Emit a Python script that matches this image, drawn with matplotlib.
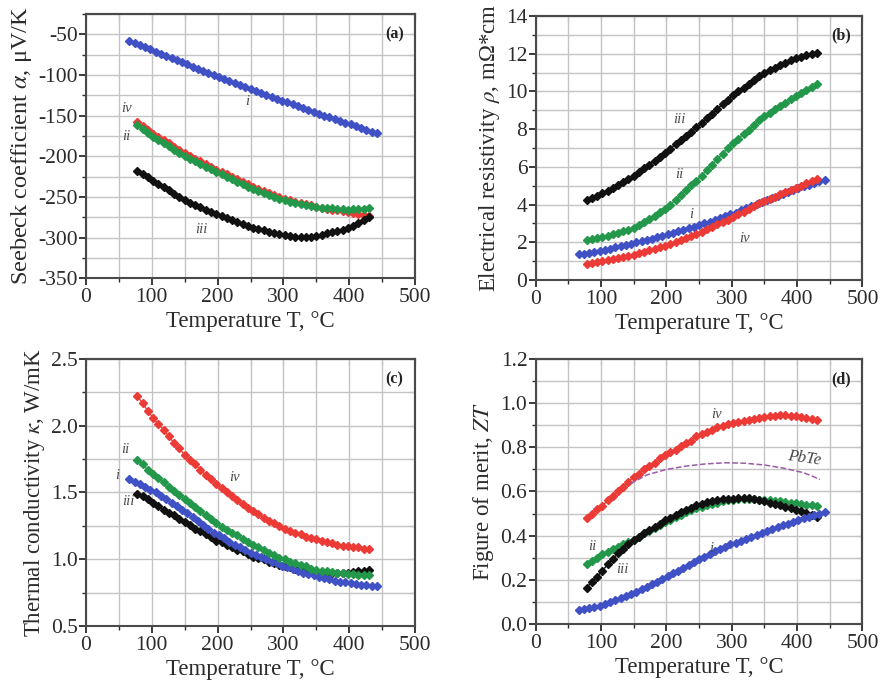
import numpy as np
import matplotlib
matplotlib.use("Agg")
import matplotlib.pyplot as plt
from matplotlib.ticker import MultipleLocator, FormatStrFormatter

plt.rcParams['font.family'] = ['Liberation Serif', 'DejaVu Serif']
plt.rcParams['mathtext.fontset'] = 'stix'
plt.rcParams['axes.unicode_minus'] = False

# temperatures, deg C
T_i = [66, 74, 82, 90, 98, 106, 114, 122, 130, 138, 146, 154, 162, 170, 178, 186,
       194, 202, 210, 218, 226, 234, 242, 250, 258, 266, 274, 282, 290, 298, 306, 314,
       322, 330, 338, 346, 354, 362, 370, 378, 386, 394, 402, 410, 418, 426, 434, 442]
T_x = [78, 86, 94, 102, 110, 118, 126, 134, 142, 150, 158, 166, 174, 182, 190, 198,
       206, 214, 222, 230, 238, 246, 254, 262, 270, 278, 286, 294, 302, 310, 318, 326,
       334, 342, 350, 358, 366, 374, 382, 390, 398, 406, 414, 422, 430]

# (a) Seebeck coefficient, uV/K
seebeck_i = [-58.0, -60.6, -63.2, -65.8, -68.4, -71.2, -73.8, -76.5, -79.1, -81.7, -84.4, -87.0,
             -89.6, -92.2, -94.8, -97.4, -100.0, -102.6, -105.0, -107.4, -109.8, -112.2, -114.6, -117.0,
             -119.4, -121.8, -124.2, -126.6, -129.0, -131.4, -133.7, -136.0, -138.3, -140.6, -142.9, -145.2,
             -147.5, -149.8, -152.0, -154.2, -156.4, -158.6, -160.8, -163.0, -165.2, -167.4, -169.6, -171.8]
seebeck_ii = [-162.0, -166.7, -171.4, -176.0, -179.9, -183.8, -187.7, -191.7, -195.6, -199.5, -202.8, -206.1,
              -209.3, -212.6, -215.9, -219.2, -222.3, -225.3, -228.4, -231.4, -234.4, -237.5, -240.2, -242.6,
              -245.0, -247.4, -249.8, -252.2, -254.3, -255.7, -257.1, -258.4, -259.8, -261.1, -262.5, -263.0,
              -263.5, -264.0, -264.4, -264.9, -265.4, -265.2, -264.9, -264.5, -264.1]
seebeck_iii = [-218.0, -222.0, -226.0, -230.0, -234.0, -238.0, -242.0, -246.0, -250.0, -254.0, -256.9, -259.8,
               -262.6, -265.5, -268.4, -271.3, -273.8, -276.2, -278.6, -281.0, -283.4, -285.8, -287.8, -289.4,
               -291.0, -292.6, -294.2, -295.8, -297.2, -298.0, -298.8, -299.6, -299.8, -299.4, -298.0, -296.4,
               -294.8, -293.2, -291.6, -290.0, -288.4, -285.4, -281.9, -278.4, -274.9]
seebeck_iv = [-158.0, -162.8, -167.6, -172.0, -176.0, -180.0, -184.0, -188.0, -192.0, -196.0, -199.4, -202.7,
              -206.1, -209.4, -212.8, -216.2, -219.3, -222.3, -225.4, -228.4, -231.4, -234.5, -237.3, -239.8,
              -242.4, -245.0, -247.5, -250.1, -252.4, -254.0, -255.6, -257.2, -258.8, -260.4, -262.0, -263.1,
              -264.2, -265.4, -266.5, -267.6, -268.7, -270.0, -271.3, -272.6, -273.8]

# (b) electrical resistivity, mOhm*cm
rho_i = [1.36, 1.40, 1.45, 1.49, 1.54, 1.60, 1.66, 1.73, 1.79, 1.85, 1.92, 1.99, 2.06, 2.13, 2.20, 2.27,
         2.35, 2.42, 2.50, 2.58, 2.66, 2.74, 2.82, 2.90, 3.00, 3.09, 3.19, 3.28, 3.38, 3.48, 3.58, 3.70,
         3.81, 3.92, 4.03, 4.14, 4.25, 4.36, 4.46, 4.56, 4.67, 4.77, 4.87, 4.96, 5.05, 5.14, 5.23, 5.32]
rho_ii = [2.10, 2.15, 2.21, 2.27, 2.35, 2.43, 2.51, 2.59, 2.67, 2.75, 2.92, 3.09, 3.25, 3.42, 3.59, 3.76,
          3.99, 4.25, 4.50, 4.76, 5.02, 5.27, 5.54, 5.83, 6.12, 6.41, 6.70, 6.98, 7.26, 7.50, 7.74, 7.98,
          8.22, 8.46, 8.70, 8.88, 9.05, 9.23, 9.40, 9.58, 9.76, 9.92, 10.08, 10.25, 10.41]
rho_iii = [4.25, 4.36, 4.47, 4.59, 4.74, 4.89, 5.04, 5.20, 5.35, 5.50, 5.71, 5.92, 6.12, 6.33, 6.54, 6.75,
           6.97, 7.19, 7.42, 7.64, 7.86, 8.09, 8.32, 8.57, 8.82, 9.07, 9.32, 9.56, 9.80, 10.00, 10.20, 10.40,
           10.60, 10.80, 11.00, 11.13, 11.26, 11.38, 11.51, 11.64, 11.77, 11.85, 11.91, 11.97, 12.03]
rho_iv = [0.85, 0.90, 0.96, 1.01, 1.07, 1.13, 1.18, 1.24, 1.29, 1.35, 1.43, 1.51, 1.59, 1.67, 1.75, 1.83,
          1.93, 2.03, 2.14, 2.24, 2.34, 2.45, 2.56, 2.69, 2.82, 2.95, 3.08, 3.20, 3.34, 3.48, 3.62, 3.77,
          3.91, 4.06, 4.20, 4.31, 4.42, 4.54, 4.65, 4.76, 4.87, 4.99, 5.12, 5.24, 5.37]

# (c) thermal conductivity, W/mK
kappa_i = [1.60, 1.58, 1.56, 1.54, 1.52, 1.50, 1.47, 1.45, 1.42, 1.40, 1.37, 1.35, 1.32, 1.29, 1.26, 1.23,
           1.20, 1.18, 1.16, 1.13, 1.11, 1.09, 1.07, 1.05, 1.03, 1.02, 1.00, 0.98, 0.97, 0.95, 0.94, 0.93,
           0.91, 0.90, 0.89, 0.88, 0.87, 0.86, 0.85, 0.84, 0.83, 0.83, 0.82, 0.815, 0.81, 0.805, 0.80, 0.80]
kappa_ii = [1.74, 1.71, 1.67, 1.64, 1.61, 1.58, 1.54, 1.51, 1.48, 1.45, 1.42, 1.39, 1.36, 1.33, 1.30, 1.27,
            1.24, 1.22, 1.20, 1.18, 1.15, 1.13, 1.11, 1.09, 1.07, 1.05, 1.03, 1.01, 1.00, 0.98, 0.97, 0.96,
            0.95, 0.93, 0.92, 0.915, 0.91, 0.905, 0.90, 0.895, 0.89, 0.888, 0.885, 0.883, 0.88]
kappa_iii = [1.49, 1.47, 1.45, 1.42, 1.40, 1.37, 1.35, 1.33, 1.30, 1.28, 1.26, 1.23, 1.21, 1.19, 1.17, 1.14,
             1.13, 1.11, 1.09, 1.07, 1.06, 1.04, 1.02, 1.01, 1.00, 0.98, 0.97, 0.96, 0.95, 0.94, 0.93, 0.925,
             0.92, 0.91, 0.905, 0.90, 0.898, 0.896, 0.895, 0.897, 0.90, 0.905, 0.91, 0.915, 0.92]
kappa_iv = [2.22, 2.17, 2.11, 2.06, 2.01, 1.97, 1.92, 1.87, 1.83, 1.78, 1.74, 1.71, 1.67, 1.63, 1.60, 1.56,
            1.53, 1.50, 1.47, 1.44, 1.41, 1.38, 1.36, 1.34, 1.31, 1.29, 1.27, 1.25, 1.23, 1.21, 1.20, 1.19,
            1.17, 1.16, 1.15, 1.14, 1.13, 1.12, 1.11, 1.10, 1.10, 1.09, 1.09, 1.08, 1.08]

# (d) figure of merit ZT
zt_i = [0.063, 0.067, 0.072, 0.077, 0.083, 0.090, 0.098, 0.107, 0.116, 0.126, 0.136, 0.146, 0.157, 0.168,
        0.180, 0.192, 0.204, 0.216, 0.229, 0.242, 0.255, 0.268, 0.281, 0.293, 0.305, 0.317, 0.329, 0.340,
        0.350, 0.360, 0.369, 0.378, 0.387, 0.396, 0.405, 0.414, 0.423, 0.431, 0.439, 0.447, 0.455, 0.463,
        0.470, 0.478, 0.486, 0.493, 0.500, 0.507]
zt_ii = [0.270, 0.285, 0.300, 0.315, 0.325, 0.340, 0.350, 0.360, 0.370, 0.380, 0.395, 0.410, 0.420, 0.435,
         0.450, 0.460, 0.470, 0.485, 0.495, 0.505, 0.515, 0.525, 0.530, 0.540, 0.545, 0.550, 0.555, 0.560,
         0.562, 0.564, 0.565, 0.565, 0.565, 0.563, 0.562, 0.560, 0.558, 0.555, 0.552, 0.550, 0.547, 0.544,
         0.541, 0.538, 0.535]
zt_iii = [0.165, 0.190, 0.215, 0.240, 0.270, 0.295, 0.320, 0.340, 0.360, 0.380, 0.395, 0.410, 0.425, 0.440,
          0.455, 0.470, 0.482, 0.494, 0.505, 0.516, 0.527, 0.537, 0.545, 0.551, 0.556, 0.560, 0.564, 0.567,
          0.568, 0.569, 0.570, 0.570, 0.568, 0.562, 0.555, 0.549, 0.543, 0.537, 0.530, 0.524, 0.518, 0.510,
          0.502, 0.493, 0.485]
zt_iv = [0.480, 0.500, 0.520, 0.535, 0.560, 0.580, 0.600, 0.620, 0.645, 0.665, 0.680, 0.700, 0.715, 0.730,
         0.750, 0.765, 0.780, 0.790, 0.805, 0.820, 0.830, 0.850, 0.860, 0.870, 0.880, 0.890, 0.895, 0.905,
         0.910, 0.915, 0.920, 0.925, 0.930, 0.935, 0.938, 0.940, 0.943, 0.945, 0.945, 0.944, 0.942, 0.939,
         0.934, 0.928, 0.922]
T_pbte = [145, 170, 200, 230, 260, 290, 320, 350, 380, 410, 435]
zt_pbte = [0.635, 0.675, 0.700, 0.715, 0.725, 0.730, 0.728, 0.720, 0.705, 0.685, 0.655]

BLUE = '#3f51c4'
GREEN = '#23984a'
BLACK = '#111111'
RED = '#ec3a36'
PURPLE = '#9b5aa8'
GRID = '#c4c4c4'
INK = '#2b2b2b'


def series(ax, T, y, color):
    ax.plot(T, y, '-', color=color, lw=1.0, marker='D', ms=3.8,
            mec=color, mfc=color, zorder=3)


def setup(ax, ylim, ymaj, ymin, fmt, ylabel, ysize, tag):
    ax.set_xlim(0, 500)
    ax.set_ylim(*ylim)
    ax.xaxis.set_major_locator(MultipleLocator(100))
    ax.xaxis.set_minor_locator(MultipleLocator(50))
    ax.yaxis.set_major_locator(MultipleLocator(ymaj))
    ax.yaxis.set_minor_locator(MultipleLocator(ymin))
    ax.yaxis.set_major_formatter(FormatStrFormatter(fmt))
    ax.grid(True, which='both', color=GRID, lw=1.0, zorder=0)
    ax.set_axisbelow(True)
    # outward ticks on the labelled sides, inward on the opposite ones
    ax.tick_params(which='both', direction='out', labelsize=15.5, colors=INK)
    ax.tick_params(which='major', length=5, width=1.3)
    ax.tick_params(which='minor', length=3, width=1.0)
    ax.tick_params(axis='x', pad=2)
    ax.tick_params(axis='y', pad=1)
    sx = ax.secondary_xaxis('top')
    sx.set_xticks(np.arange(0, 501, 50))
    sx.tick_params(direction='in', length=4, labeltop=False, colors='#555555')
    sy = ax.secondary_yaxis('right')
    sy.set_yticks(np.arange(ylim[0], ylim[1] + 1e-9, ymin))
    sy.tick_params(direction='in', length=4, labelright=False, colors='#555555')
    for a in (ax, sx, sy):
        for sp in a.spines.values():
            sp.set_color('#4a4a4a')
            sp.set_linewidth(1.5)
    ax.set_xlabel('Temperature T, °C', fontsize=16.5, color=INK, labelpad=3)
    ax.set_ylabel(ylabel, fontsize=ysize, color=INK, labelpad=3)
    ax.text(0.965, 0.955, tag, transform=ax.transAxes, ha='right', va='top',
            fontsize=11.5, fontweight='bold', color='#222222')


def roman(ax, x, y, s):
    ax.text(x, y, s, fontsize=10.5, style='italic', color='#4a4a4a',
            ha='center', va='center', zorder=4)


fig = plt.figure(figsize=(8.81, 6.83), dpi=100)

ax_a = fig.add_axes([0.0976, 0.5925, 0.3735, 0.387])
ax_b = fig.add_axes([0.608, 0.590, 0.371, 0.3866])
ax_c = fig.add_axes([0.0976, 0.0835, 0.3735, 0.3909])
ax_d = fig.add_axes([0.608, 0.0864, 0.371, 0.388])

# (a)
setup(ax_a, (-350, -25), 50, 25, '%d', r'Seebeck coefficient $\alpha$, μV/K', 17.5, '(a)')
series(ax_a, T_i, seebeck_i, BLUE)
series(ax_a, T_x, seebeck_iv, RED)
series(ax_a, T_x, seebeck_ii, GREEN)
series(ax_a, T_x, seebeck_iii, BLACK)
roman(ax_a, 245, -133, 'i')
roman(ax_a, 61, -141, 'iv')
roman(ax_a, 61, -176, 'ii')
roman(ax_a, 176, -290, 'iii')

# (b)
setup(ax_b, (0, 14), 2, 1, '%d', r'Electrical resistivity $\rho$, mΩ*cm', 16.5, '(b)')
series(ax_b, T_x, rho_iii, BLACK)
series(ax_b, T_x, rho_ii, GREEN)
series(ax_b, T_i, rho_i, BLUE)
series(ax_b, T_x, rho_iv, RED)
roman(ax_b, 220, 8.5, 'iii')
roman(ax_b, 220, 5.6, 'ii')
roman(ax_b, 238, 3.45, 'i')
roman(ax_b, 320, 2.2, 'iv')

# (c)
setup(ax_c, (0.5, 2.5), 0.5, 0.25, '%.1f', r'Thermal conductivity $\kappa$, W/mK', 16.5, '(c)')
series(ax_c, T_x, kappa_iv, RED)
series(ax_c, T_x, kappa_iii, BLACK)
series(ax_c, T_i, kappa_i, BLUE)
series(ax_c, T_x, kappa_ii, GREEN)
roman(ax_c, 59, 1.82, 'ii')
roman(ax_c, 48, 1.63, 'i')
roman(ax_c, 64, 1.43, 'iii')
roman(ax_c, 226, 1.61, 'iv')

# (d)
setup(ax_d, (0.0, 1.2), 0.2, 0.1, '%.1f', r'Figure of merit, $ZT$', 16.5, '(d)')
series(ax_d, T_x, zt_iv, RED)
ax_d.plot(T_pbte, zt_pbte, '--', color=PURPLE, lw=1.1, zorder=3)
series(ax_d, T_x, zt_ii, GREEN)
series(ax_d, T_x, zt_iii, BLACK)
series(ax_d, T_i, zt_i, BLUE)
roman(ax_d, 277, 0.947, 'iv')
roman(ax_d, 86, 0.35, 'ii')
roman(ax_d, 133, 0.245, 'iii')
roman(ax_d, 269, 0.344, 'i')
ax_d.text(411, 0.75, 'PbTe', fontsize=12, style='italic', color='#444444',
          ha='center', va='center', rotation=-8, zorder=4)

fig.savefig('out.png', dpi=100)
